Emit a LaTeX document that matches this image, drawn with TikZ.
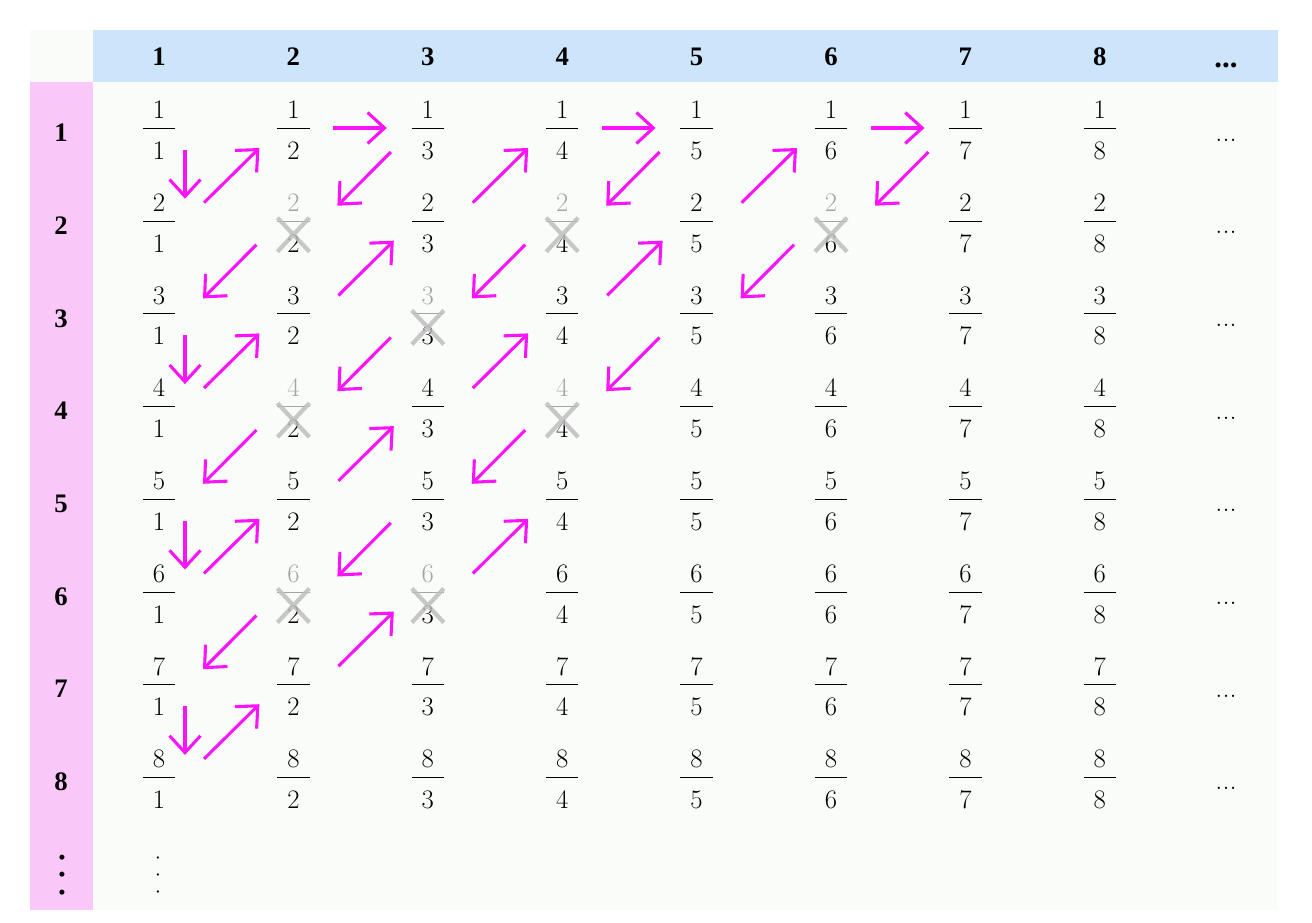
\documentclass[tikz,border=0pt]{standalone}
\usepackage{fontspec}
\newfontfamily\labfont{Liberation Serif}
\usetikzlibrary{arrows.meta}

\definecolor{headblue}{RGB}{205,229,251}
\definecolor{sidepink}{RGB}{249,200,249}
\definecolor{paper}{RGB}{250,252,250}
\definecolor{zigpink}{RGB}{250,20,250}
\definecolor{fadegray}{RGB}{165,165,165}
\definecolor{crossgray}{RGB}{190,190,190}

% fraction with a wide bar, and the struck-out one
\newcommand{\fr}[2]{\begin{tabular}{@{}c@{}}\makebox[23pt]{#1}\\\hline\rule{0pt}{22pt}#2\end{tabular}}
\newcommand{\xfr}[2]{{\color{fadegray}\begin{tabular}{@{}c@{}}\makebox[23pt]{#1}\\\hline\rule{0pt}{22pt}\color{black}#2\end{tabular}}}
% spaced-out dots, set on their side for the last row
\newcommand{\sdots}{.\kern7.2pt.\kern7.2pt.}

\tikzset{
    frac/.style={inner sep=0pt, font=\fontsize{19}{22}\selectfont},
    more/.style={inner sep=0pt, font=\fontsize{20}{22}\selectfont},
    hdr/.style={inner sep=0pt, font={\labfont\bfseries\fontsize{19}{22}\selectfont}},
    zig/.style={draw=zigpink, line width=2.2pt, -{Straight Barb[length=12pt,width=22pt]}},
    strikeout/.style={draw=crossgray, line width=3pt, opacity=0.85}
}

\begin{document}
\begin{tikzpicture}[x=0.025cm, y=-0.025cm]
    \useasboundingbox (0,0) rectangle (1312,922);

    % table cells
    \fill[white] (0,0) rectangle (1312,922);
    \fill[paper] (93,82) rectangle (1278,910);
    \fill[headblue] (93,30) rectangle (1278,82);
    \fill[sidepink] (30,82) rectangle (93,910);
    \fill[paper] (30,30) rectangle (93,82);

    % denominators across, numerators down
    \foreach \col in {1,...,8}
        \node[hdr] (h\col) at ({159+(\col-1)*134.4}, 57) {\col};
    \node[hdr, anchor=base, font={\labfont\bfseries\fontsize{22}{24}\selectfont}] (hdots) at (1226, 67) {...};
    \foreach \row in {1,...,8}
        \node[hdr] (v\row) at (61, {133+(\row-1)*92.7}) {\row};
    \node[hdr, rotate=90, font={\labfont\bfseries\fontsize{22}{24}\selectfont}] (vdots) at (62, 875) {\sdots};

    % p/q grid, repeated values struck out
    \foreach \row in {1,...,8}
        \foreach \col in {1,...,8} {
            \pgfmathtruncatemacro{\dup}{(gcd(\row,\col)>1)*((\row+\col<9)||(\row+\col==9 && \row>4))}
            \ifnum\dup=1
                \node[frac] (f\row\col) at ({159+(\col-1)*134.4}, {133+(\row-1)*92.7}) {\xfr{\row}{\col}};
                \draw[strikeout] ([shift={(-16,-8)}]f\row\col.center) -- ([shift={(16,26)}]f\row\col.center)
                    ([shift={(-16,26)}]f\row\col.center) -- ([shift={(16,-8)}]f\row\col.center);
            \else
                \node[frac] (f\row\col) at ({159+(\col-1)*134.4}, {133+(\row-1)*92.7}) {\fr{\row}{\col}};
            \fi
        }
    \foreach \row in {1,...,8}
        \node[more, anchor=base] (e\row) at (1226, {141+(\row-1)*92.7}) {...};
    \node[more, rotate=90] (fdots) at (158, 875) {\sdots};

    % zigzag walk
    \foreach \a/\b in {11/21,31/41,51/61,71/81}
        \draw[zig] ([shift={(26,17)}]f\a.center) -- ([shift={(26,-27)}]f\b.center);
    \foreach \a/\b in {12/13,14/15,16/17}
        \draw[zig] ([shift={(40,-5)}]f\a.center) -- ([shift={(-41,-5)}]f\b.center);
    \foreach \a/\b in {21/12,41/32,32/23,23/14,61/52,52/43,43/34,34/25,25/16,81/72,72/63,63/54}
        \draw[zig] ([shift={(45,-23)}]f\a.center) -- ([shift={(-34,15)}]f\b.center);
    \foreach \a/\b in {13/22,22/31,15/24,24/33,33/42,42/51,17/26,26/35,35/44,44/53,53/62,62/71}
        \draw[zig] ([shift={(-37,19)}]f\a.center) -- ([shift={(44,-20)}]f\b.center);
\end{tikzpicture}
\end{document}
